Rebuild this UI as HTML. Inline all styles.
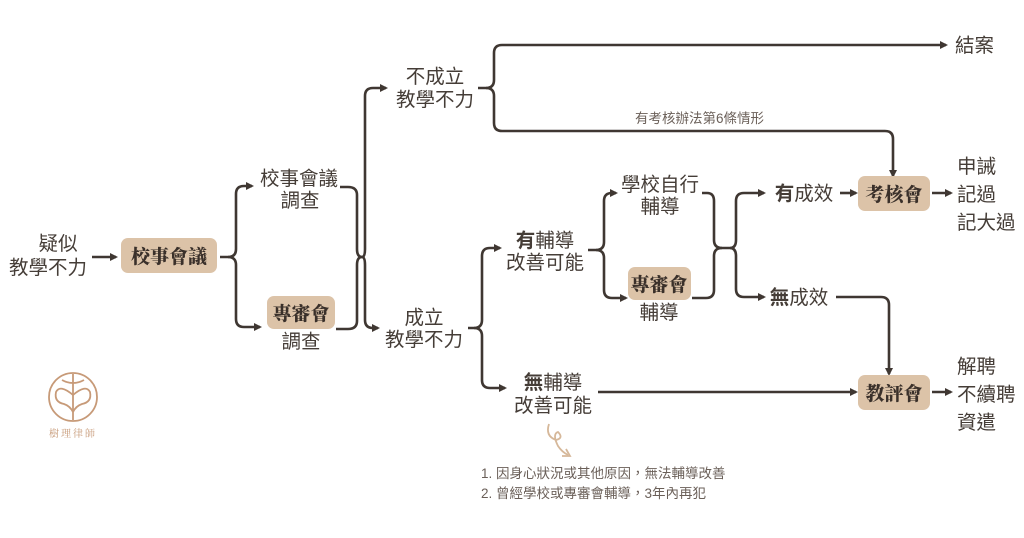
<!DOCTYPE html>
<html><head><meta charset="utf-8"><style>
html,body{margin:0;padding:0;background:#fff;width:1024px;height:538px;overflow:hidden}
svg{display:block}
.t{font-family:"Liberation Sans","Noto Sans CJK TC",sans-serif;font-size:19.5px;fill:#453d37}
.b{font-family:"Noto Serif CJK SC","Liberation Serif",serif;font-weight:900;font-size:19px;fill:#3a302a}
.s{font-family:"Liberation Sans","Noto Sans CJK TC",sans-serif;font-size:13.5px;fill:#6a5f58}
.bo{font-weight:700}
</style></head><body>
<svg width="1024" height="538" viewBox="0 0 1024 538" xmlns="http://www.w3.org/2000/svg">
<defs>
<marker id="a" markerWidth="8" markerHeight="8" refX="6" refY="4" orient="auto" markerUnits="userSpaceOnUse"><path d="M0,0 L8,4 L0,8 Z" fill="#3f3732"/></marker>
</defs>
<g fill="none" stroke="#3f3732" stroke-width="2.6">
<line x1="92" y1="257" x2="116" y2="257" marker-end="url(#a)"/>
<path d="M220,257 H228 Q236,257 236,249 V194 Q236,186 244,186 H252" marker-end="url(#a)"/>
<path d="M228,257 Q236,257 236,265 V319 Q236,327 244,327 H260" marker-end="url(#a)"/>
<path d="M340,187 H348 Q357,187 357,195 V249 Q357,257 362,257"/>
<path d="M336,329 H348 Q357,329 357,321 V265 Q357,257 362,257"/>
<path d="M362,257 Q365,257 365,249 V96 Q365,88 373,88 H386" marker-end="url(#a)"/>
<path d="M362,257 Q365,257 365,265 V320 Q365,328 373,328 H378" marker-end="url(#a)"/>
<path d="M478,88 H486 Q494,88 494,80 V53 Q494,45 502,45 H946" marker-end="url(#a)"/>
<path d="M486,88 Q494,88 494,96 V123 Q494,131 502,131 H885 Q893,131 893,139 V176" marker-end="url(#a)"/>
<path d="M468,328 H474 Q482,328 482,320 V256 Q482,248 490,248 H500" marker-end="url(#a)"/>
<path d="M474,328 Q482,328 482,336 V380 Q482,388 490,388 H505" marker-end="url(#a)"/>
<path d="M588,250 H596 Q604,250 604,242 V201 Q604,193 612,193 H616" marker-end="url(#a)"/>
<path d="M596,250 Q604,250 604,258 V290 Q604,298 612,298 H626" marker-end="url(#a)"/>
<path d="M702,193 H707 Q714,193 714,201 V240 Q714,248 722,248 H730"/>
<path d="M692,298 H706 Q714,298 714,290 V256 Q714,248 722,248"/>
<path d="M730,248 Q736,248 736,240 V201 Q736,193 744,193 H764" marker-end="url(#a)"/>
<path d="M730,248 Q736,248 736,256 V289 Q736,297 744,297 H764" marker-end="url(#a)"/>
<line x1="840" y1="193" x2="856" y2="193" marker-end="url(#a)"/>
<line x1="932" y1="193" x2="951" y2="193" marker-end="url(#a)"/>
<path d="M836,297 H881 Q889,297 889,305 V374" marker-end="url(#a)"/>
<line x1="598" y1="392" x2="856" y2="392" marker-end="url(#a)"/>
<line x1="932" y1="392" x2="951" y2="392" marker-end="url(#a)"/>
</g>
<g fill="#dcc3a8">
<rect x="121" y="238" width="96" height="35" rx="7"/>
<rect x="267" y="296" width="68" height="33" rx="7"/>
<rect x="628" y="267" width="63" height="33" rx="7"/>
<rect x="858" y="176" width="72" height="35" rx="7"/>
<rect x="858" y="375" width="72" height="35" rx="7"/>
</g>
<g class="b" text-anchor="middle">
<text x="169" y="263">校事會議</text>
<text x="301" y="320">專審會</text>
<text x="659" y="291">專審會</text>
<text x="894" y="201">考核會</text>
<text x="894" y="400">教評會</text>
</g>
<g class="t" text-anchor="middle">
<text x="58" y="250">疑似</text>
<text x="48" y="274">教學不力</text>
<text x="299" y="185">校事會議</text>
<text x="300" y="207">調查</text>
<text x="301" y="348">調查</text>
<text x="435" y="83">不成立</text>
<text x="435" y="106">教學不力</text>
<text x="424" y="324">成立</text>
<text x="424" y="346">教學不力</text>
<text x="545" y="247"><tspan class="bo">有</tspan>輔導</text>
<text x="545" y="269">改善可能</text>
<text x="553" y="389"><tspan class="bo">無</tspan>輔導</text>
<text x="553" y="412">改善可能</text>
<text x="660" y="191">學校自行</text>
<text x="660" y="213">輔導</text>
<text x="659" y="319">輔導</text>
<text x="804" y="200"><tspan class="bo">有</tspan>成效</text>
<text x="799" y="304"><tspan class="bo">無</tspan>成效</text>
</g>
<g class="t">
<text x="955" y="52">結案</text>
<text x="957" y="173">申誡</text>
<text x="957" y="201">記過</text>
<text x="957" y="229">記大過</text>
<text x="957" y="373">解聘</text>
<text x="957" y="401">不續聘</text>
<text x="957" y="429">資遣</text>
</g>
<text class="s" x="635" y="123" font-size="13">有考核辦法第6條情形</text>
<text class="s" x="481" y="478">1. 因身心狀況或其他原因，無法輔導改善</text>
<text class="s" x="481" y="498">2. 曾經學校或專審會輔導，3年內再犯</text>
<path d="M549,424 Q545,436 556,440 Q564,438 558,432 Q552,434 558,446 Q562,452 568,455" fill="none" stroke="#d6b89a" stroke-width="1.8"/>
<path d="M562,456 L570,456 L566,449" fill="none" stroke="#d6b89a" stroke-width="1.8"/>
<g fill="none" stroke="#c79a78" stroke-width="1.8">
<circle cx="73" cy="397" r="24"/>
<line x1="73" y1="374" x2="73" y2="420"/>
<path d="M73,395 Q60,384 56,392 Q54,402 64,404 Q70,406 73,412"/>
<path d="M73,395 Q86,384 90,392 Q92,402 82,404 Q76,406 73,412"/>
<path d="M62,380 Q73,386 84,380"/>
</g>
<text x="73" y="437" text-anchor="middle" font-family="Noto Serif CJK SC,serif" font-size="10" fill="#c79a78" letter-spacing="2">樹理律師</text>
</svg>
</body></html>
